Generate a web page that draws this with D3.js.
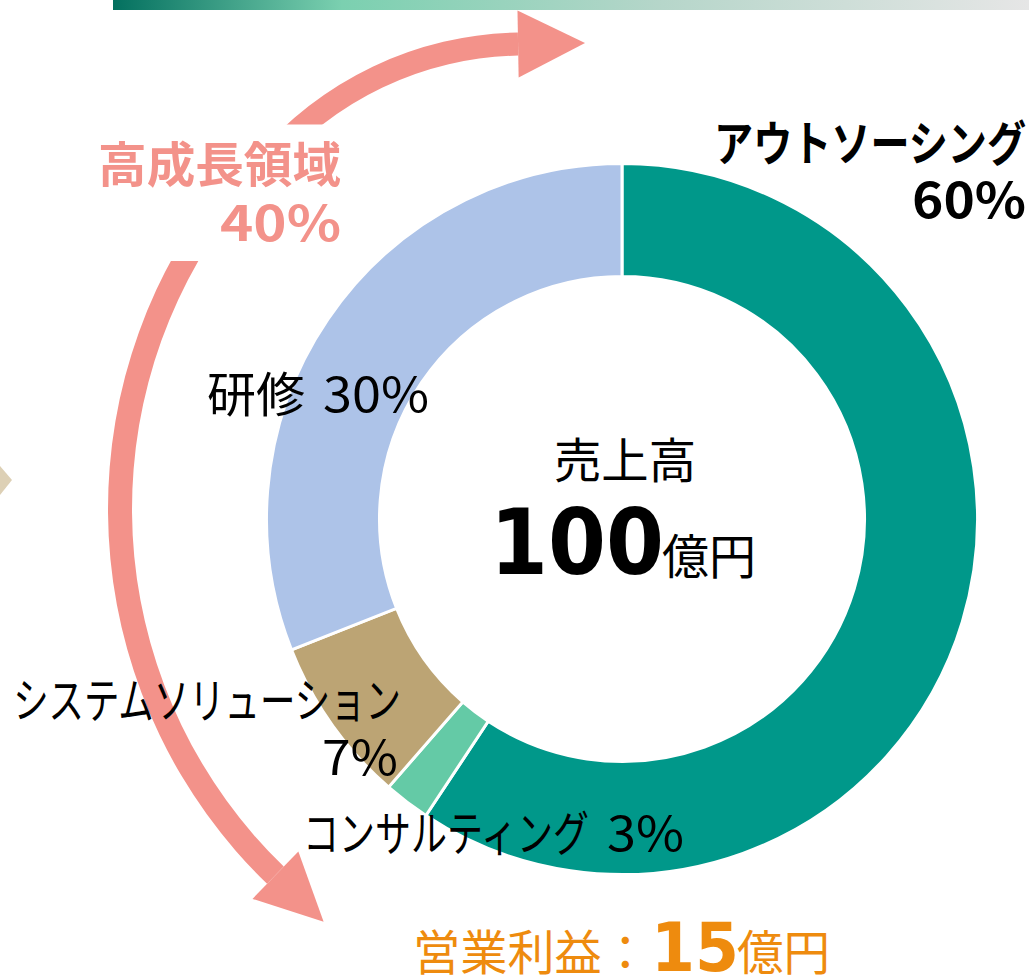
<!DOCTYPE html>
<html lang="ja">
<head>
<meta charset="UTF-8">
<title>売上高 構成比</title>
<script src="https://d3js.org/d3.v7.min.js"></script>
<style>
  body { margin: 0; background: #fff; }
  svg { display: block; }
  text { font-family: "Noto Sans CJK JP", "Noto Sans", sans-serif; }
</style>
</head>
<body>
<svg id="chart" width="1029" height="975"></svg>
<script>
// segments, clockwise from 12 o'clock
var segments = ["アウトソーシング", "コンサルティング", "システムソリューション", "研修"];
var shares = [59.3, 2.1, 7.6, 31.0];
var shareLabels = ["60%", "3%", "7%", "30%"];
var colors = ["#00988a", "#64caa6", "#bca474", "#adc3e8"];

var totalLabel = "売上高", totalValue = "100", totalUnit = "億円";
var profitLabel = "営業利益：", profitValue = "15", profitUnit = "億円";
var growthLabel = "高成長領域", growthShare = "40%";

var pink = "#f3928a", orange = "#ee8b0e";

var svg = d3.select("#chart");
var cx = 622, cy = 519;

// header bar
var grad = svg.append("defs").append("linearGradient").attr("id", "bar");
[["0%", "#03705f"], ["25%", "#7bd0b0"], ["60%", "#b6d6ca"], ["100%", "#e6e6e6"]]
  .forEach(function(s) { grad.append("stop").attr("offset", s[0]).attr("stop-color", s[1]); });
svg.append("rect").attr("x", 113).attr("y", 0).attr("width", 916).attr("height", 10)
  .attr("fill", "url(#bar)");

// tip of a shape from the neighbouring panel
svg.append("path").attr("d", "M0,466L12,480L0,495Z").attr("fill", "#ddd0b5");

// growth arrows: band along a circle + triangular head
function arrow(c, r, w, a0, a1, headLen, headHalf) {
  var g = svg.append("g").attr("fill", pink);
  g.append("path")
    .attr("transform", "translate(" + c[0] + "," + c[1] + ")")
    .attr("d", d3.arc().innerRadius(r - w / 2).outerRadius(r + w / 2)
      .startAngle(Math.min(a0, a1)).endAngle(Math.max(a0, a1))());
  var dir = a1 > a0 ? 1 : -1;
  var p = [c[0] + r * Math.sin(a1), c[1] - r * Math.cos(a1)];
  var rad = [Math.sin(a1), -Math.cos(a1)];
  var tan = [dir * Math.cos(a1), dir * Math.sin(a1)];
  g.append("path").attr("d", d3.line()([
    [p[0] + rad[0] * headHalf, p[1] + rad[1] * headHalf],
    [p[0] + tan[0] * headLen, p[1] + tan[1] * headLen],
    [p[0] - rad[0] * headHalf, p[1] - rad[1] * headHalf]
  ]) + "Z");
}
var deg = Math.PI / 180;
arrow([524, 384], 340, 23, -50 * deg, -1 * deg, 67, 33.5);
arrow([629, 509], 509, 24, 305 * deg, 224 * deg, 67, 33);

// label box over the arrows' tails
svg.append("rect").attr("x", 90).attr("y", 124.5).attr("width", 255).attr("height", 136.5)
  .attr("fill", "#fff");

// donut
var pie = d3.pie().sort(null).value(function(d) { return d; });
var arc = d3.arc().innerRadius(242.5).outerRadius(355.5);
svg.append("g").attr("transform", "translate(" + cx + "," + cy + ")")
  .selectAll("path").data(pie(shares)).join("path")
  .attr("d", arc)
  .attr("fill", function(d, i) { return colors[i]; })
  .attr("stroke", "#fff").attr("stroke-width", 3);

// text squeezed horizontally to the width of the original (narrower) typeface
function label(str, x, y, o) {
  var t = svg.append("text")
    .attr("font-size", o.size || 48)
    .attr("font-weight", o.bold ? "bold" : "normal")
    .attr("fill", o.color || "#000")
    .attr("text-anchor", o.anchor || "start")
    .text(str);
  if (o.family) t.style("font-family", o.family);
  var sx = o.width ? o.width / t.node().getComputedTextLength() : 1;
  t.attr("transform", "translate(" + x + "," + y + ") scale(" + sx + ",1)");
  return t;
}

// segment labels
label(segments[0], 1026, 161, { bold: true, anchor: "end", width: 312 });
label(shareLabels[0], 1026, 218, { bold: true, anchor: "end", width: 114 });
label(segments[1], 303, 851, { width: 286 });
label(shareLabels[1], 684, 851, { anchor: "end", width: 77 });
label(segments[2], 401, 718, { anchor: "end", width: 388 });
label(shareLabels[2], 398, 775, { anchor: "end", width: 76 });
label(segments[3], 207, 412, { width: 98 });
label(shareLabels[3], 429, 412, { anchor: "end", width: 106 });

// growth area
label(growthLabel, 341, 182, { bold: true, anchor: "end", color: pink, width: 243 });
label(growthShare, 341, 241, { bold: true, anchor: "end", color: pink, width: 121 });

// centre
label(totalLabel, 625, 478, { anchor: "middle", width: 142 });
label(totalValue, 490, 574, { bold: true, size: 90, family: "DejaVu Sans", width: 174 });
label(totalUnit, 662, 574, { width: 94 });

// operating profit
label(profitLabel, 413, 970, { color: orange, width: 236 });
label(profitValue, 651, 971, { bold: true, size: 67, family: "DejaVu Sans", color: orange, width: 88 });
label(profitUnit, 737, 970, { color: orange, width: 93 });
</script>
</body>
</html>
